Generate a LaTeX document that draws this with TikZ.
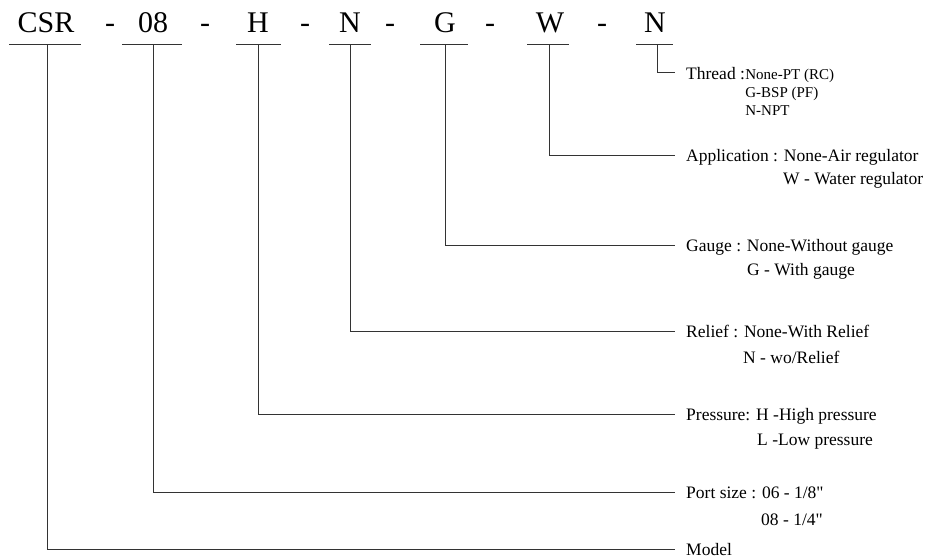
\documentclass[tikz,border=0pt]{standalone}
\usepackage{fontspec}
\setmainfont{Liberation Serif}[Ligatures=TeXOff]
\begin{document}
\begin{tikzpicture}[x=1pt,y=-1pt,
  code/.style={font=\fontsize{30}{36}\selectfont, anchor=base, inner sep=0pt},
  lab/.style={font=\fontsize{17.5}{21}\selectfont, anchor=base west, inner sep=0pt},
  opt/.style={font=\fontsize{15}{18}\selectfont, anchor=base west, inner sep=0pt},
  ln/.style={line width=0.9pt, draw=black!80}]
\useasboundingbox (0,0) rectangle (929,558);
% code letters
\node[code] (c1) at (46,32) {CSR};
\node[code] (d1) at (110,32) {-};
\node[code] (c2) at (153,32) {08};
\node[code] (d2) at (205,32) {-};
\node[code] (c3) at (258,32) {H};
\node[code] (d3) at (305,32) {-};
\node[code] (c4) at (350,32) {N};
\node[code] (d4) at (390,32) {-};
\node[code] (c5) at (445,32) {G};
\node[code] (d5) at (490,32) {-};
\node[code] (c6) at (550,32) {W};
\node[code] (d6) at (602,32) {-};
\node[code] (c7) at (655,32) {N};
% underlines
\draw[ln] (9,44) -- (81,44);
\draw[ln] (122,44) -- (182,44);
\draw[ln] (236,44) -- (281,44);
\draw[ln] (329,44) -- (371,44);
\draw[ln] (420,44) -- (468,44);
\draw[ln] (527,44) -- (569,44);
\draw[ln] (636,44) -- (673,44);
% connector coordinates
\coordinate (v1) at (47,44);  \coordinate (e1) at (675,549);
\coordinate (v2) at (153,44); \coordinate (e2) at (675,492);
\coordinate (v3) at (258,44); \coordinate (e3) at (675,414);
\coordinate (v4) at (350,44); \coordinate (e4) at (675,331);
\coordinate (v5) at (445,44); \coordinate (e5) at (675,245);
\coordinate (v6) at (549,44); \coordinate (e6) at (675,155);
\coordinate (v7) at (657,44); \coordinate (e7) at (675,72);
\draw[ln] (v1) |- (e1);
\draw[ln] (v2) |- (e2);
\draw[ln] (v3) |- (e3);
\draw[ln] (v4) |- (e4);
\draw[ln] (v5) |- (e5);
\draw[ln] (v6) |- (e6);
\draw[ln] (v7) |- (e7);
% labels
\node[lab] (t7) at (686,79) {Thread :};
\node[opt] (t7a) at (t7.base east) {None-PT (RC)};
\node[opt] (t7b) at (t7a.base west |- 0,97) {G-BSP (PF)};
\node[opt] (t7c) at (t7a.base west |- 0,115) {N-NPT};
\node[lab] (t6) at (686,161) {Application : None-Air regulator};
\node[lab] (t6a) at (783,184) {W - Water regulator};
\node[lab] (t5) at (686,251) {Gauge : None-Without gauge};
\node[lab] (t5a) at (747,275) {G - With gauge};
\node[lab] (t4) at (686,337) {Relief : None-With Relief};
\node[lab] (t4a) at (743,363) {N - wo/Relief};
\node[lab] (t3) at (686,420) {Pressure: H -High pressure};
\node[lab] (t3a) at (757,445) {L -Low pressure};
\node[lab] (t2) at (686,498) {Port size : 06 - 1/8"};
\node[lab] (t2a) at (761,525) {08 - 1/4"};
\node[lab] (t1) at (686,555) {Model};
\end{tikzpicture}
\end{document}
